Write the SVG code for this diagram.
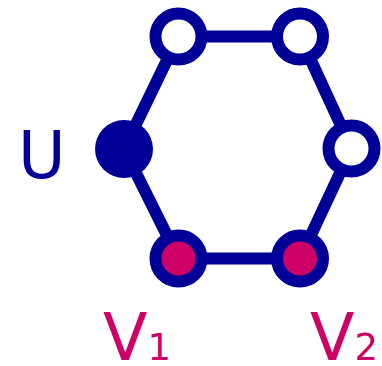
<svg xmlns="http://www.w3.org/2000/svg" width="382" height="366" viewBox="0 0 382 366">
  <style>
    .edge { stroke: #000099; stroke-width: 12; fill: none; }
    .open { fill: #ffffff; stroke: #000099; stroke-width: 12; }
    .solid { fill: #000099; }
    .mark { fill: #CC0066; stroke: #000099; stroke-width: 12; }
    .lbl { font-family: "DejaVu Sans", sans-serif; font-size: 65px; }
    .sub { font-size: 37px; }
  </style>
  <rect width="382" height="366" fill="#ffffff"/>
  <g id="edges">
    <polygon class="edge" points="178.5,36.5 300,36.5 351.5,148.5 300,258.5 178.5,258.5 124,149"/>
  </g>
  <g id="node-top-left"><circle class="open" cx="178.5" cy="36.5" r="23"/></g>
  <g id="node-top-right"><circle class="open" cx="300" cy="36.5" r="23"/></g>
  <g id="node-right"><circle class="open" cx="351.5" cy="148.5" r="23"/></g>
  <g id="node-u"><circle class="solid" cx="124" cy="149" r="29"/></g>
  <g id="node-v1"><circle class="mark" cx="178.5" cy="258.5" r="23"/></g>
  <g id="node-v2"><circle class="mark" cx="300" cy="258.5" r="23"/></g>
  <g id="labels">
    <text class="lbl" x="18" y="178" fill="#000099">U</text>
    <text class="lbl" x="103" y="360" fill="#CC0066">V<tspan class="sub">1</tspan></text>
    <text class="lbl" x="310" y="360" fill="#CC0066">V<tspan class="sub">2</tspan></text>
  </g>
</svg>
